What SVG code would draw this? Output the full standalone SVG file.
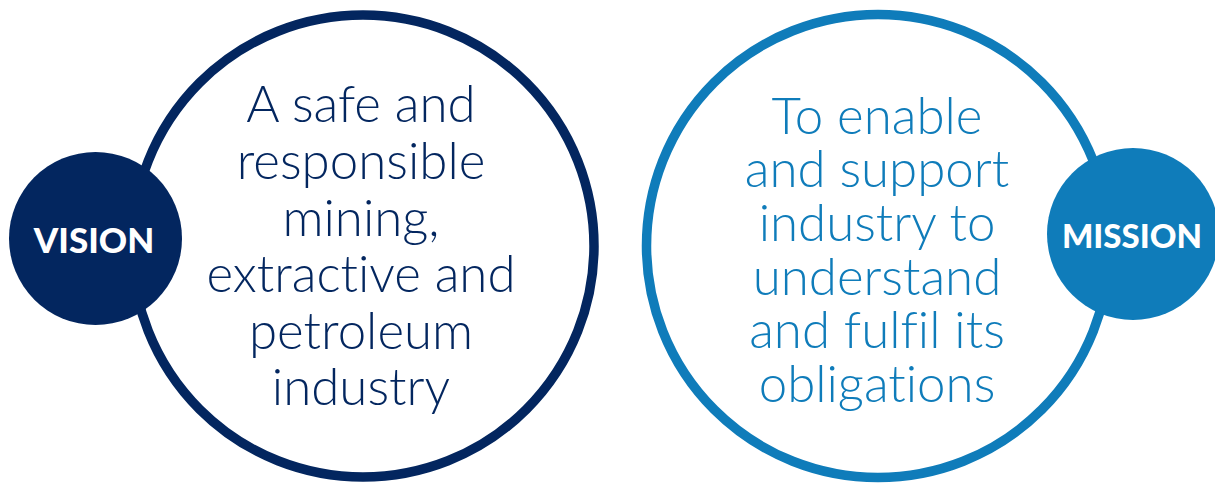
<svg xmlns="http://www.w3.org/2000/svg" width="1215" height="483" viewBox="0 0 1215 483">
<style>
.ring{fill:#ffffff;stroke-width:9.5}
.navy{stroke:#03265f}
.blue{stroke:#0f7cba}
.body{font-family:"Lato","Liberation Sans",sans-serif;font-weight:300;font-size:51px;text-anchor:middle;font-variant-ligatures:none;font-feature-settings:"liga" 0}
.badge{font-family:"Lato","Liberation Sans",sans-serif;font-weight:900;fill:#ffffff;text-anchor:middle}
</style>
<rect width="1215" height="483" fill="#ffffff"/>
<g id="vision-ring">
<circle class="ring navy" cx="363" cy="246" r="231"/>
<g class="body" fill="#03265f">
<text x="361" y="122">A safe and</text>
<text x="361" y="179">responsible</text>
<text x="361" y="236">mining,</text>
<text x="361" y="292">extractive and</text>
<text x="361" y="349">petroleum</text>
<text x="361" y="405">industry</text>
</g>
</g>
<g id="mission-ring">
<circle class="ring blue" cx="878" cy="246" r="231.5"/>
<g class="body" fill="#0f7cba">
<text x="877" y="134">To enable</text>
<text x="877" y="187">and support</text>
<text x="877" y="241">industry to</text>
<text x="877" y="295">understand</text>
<text x="877" y="348">and fulfil its</text>
<text x="877" y="402">obligations</text>
</g>
</g>
<g id="vision">
<circle cx="95.5" cy="238.5" r="86.5" fill="#03265f"/>
<text class="badge" x="94" y="253" font-size="35">VISION</text>
</g>
<g id="mission">
<circle cx="1133" cy="234" r="86" fill="#0f7cba"/>
<text class="badge" x="1132" y="248" font-size="33">MISSION</text>
</g>
<g id="connectors"></g>
</svg>
